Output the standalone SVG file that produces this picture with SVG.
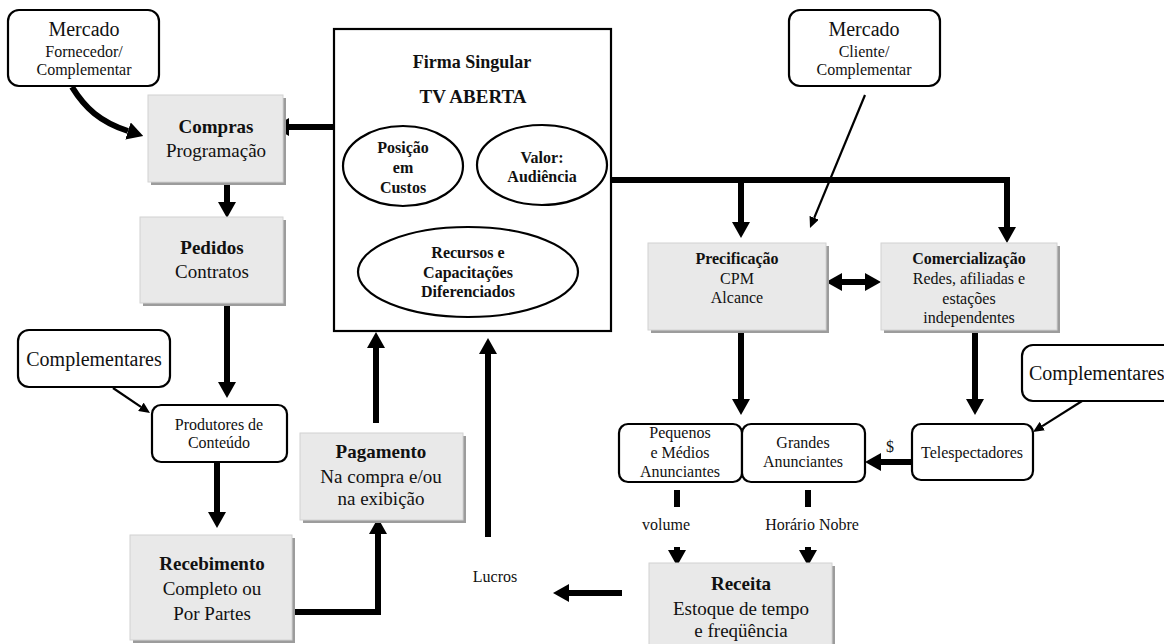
<svg xmlns="http://www.w3.org/2000/svg" width="1164" height="644" viewBox="0 0 1164 644">
  <style>
    text { font-family: "Liberation Serif", "Times New Roman", serif; fill: #111; text-anchor: middle; }
    text.st { text-anchor: start; }
    .b { font-weight: bold; }
    .s16 { font-size: 16px; }
    .s19 { font-size: 19px; }
    .s20 { font-size: 20px; }
    .rbox { fill: #fff; stroke: #000; stroke-width: 2.2; }
    .gbox { fill: #e9e9e9; stroke: #d2d2d2; stroke-width: 1; }
    .shadow { fill: #9c9c9c; }
    .ell { fill: #fff; stroke: #000; stroke-width: 2.2; }
    .thick { fill: none; stroke: #000; stroke-width: 6; }
    .mid { fill: none; stroke: #000; stroke-width: 3.5; }
    .thin { fill: none; stroke: #000; stroke-width: 2.2; }
  </style>
  <defs>
    <marker id="ah" markerUnits="userSpaceOnUse" markerWidth="16" markerHeight="18" viewBox="0 0 16 18" refX="0" refY="9" orient="auto-start-reverse">
      <path d="M0,0 L16,9 L0,18 z" fill="#000"/>
    </marker>
    <marker id="am" markerUnits="userSpaceOnUse" markerWidth="10" markerHeight="11" viewBox="0 0 10 11" refX="0" refY="5.5" orient="auto-start-reverse">
      <path d="M0,0 L10,5.5 L0,11 z" fill="#000"/>
    </marker>
    <marker id="at" markerUnits="userSpaceOnUse" markerWidth="11" markerHeight="10" viewBox="0 0 11 10" refX="0" refY="5" orient="auto">
      <path d="M0,0 L11,5 L0,10 z" fill="#000"/>
    </marker>
  </defs>

  <rect width="1164" height="644" fill="#fff"/>

  <!-- connectors -->
  <g id="connectors">
    <path class="thick" d="M72,87 C85,108 100,122 128,131" marker-end="url(#ah)"/>
    <line class="thick" x1="334" y1="127" x2="289" y2="127" marker-end="url(#ah)"/>
    <line class="thick" x1="227" y1="182" x2="227" y2="202" marker-end="url(#ah)"/>
    <line class="thick" x1="227" y1="303" x2="227" y2="382" marker-end="url(#ah)"/>
    <line class="thin" x1="113" y1="388" x2="140.9" y2="406.8" marker-end="url(#at)"/>
    <line class="thick" x1="217" y1="463" x2="217" y2="512" marker-end="url(#ah)"/>
    <polyline class="thick" points="292,612 378,612 378,534" marker-end="url(#ah)"/>
    <line class="thick" x1="376" y1="423" x2="376" y2="348" marker-end="url(#ah)"/>
    <line class="thick" x1="488" y1="537" x2="488" y2="354" marker-end="url(#ah)"/>
    <line class="thick" x1="622" y1="593" x2="569" y2="593" marker-end="url(#ah)"/>

    <!-- inside the firm -->
    <line class="mid" x1="460" y1="167" x2="482" y2="167" marker-start="url(#am)" marker-end="url(#am)"/>
    <line class="mid" x1="442" y1="227" x2="430.6" y2="210.3" marker-end="url(#am)"/>
    <line class="mid" x1="503" y1="227" x2="517.9" y2="212.1" marker-end="url(#am)"/>

    <!-- output bus to pricing and sales -->
    <path class="thick" d="M611,180 H1007 V227" marker-end="url(#ah)"/>
    <line class="thick" x1="741" y1="180" x2="741" y2="222" marker-end="url(#ah)"/>
    <line class="thin" x1="865" y1="95" x2="814.2" y2="217.8" marker-end="url(#at)"/>
    <line class="thick" x1="842" y1="282" x2="865" y2="282" marker-start="url(#ah)" marker-end="url(#ah)"/>
    <line class="thick" x1="741" y1="331" x2="741" y2="399" marker-end="url(#ah)"/>
    <line class="thick" x1="975" y1="331" x2="975" y2="399" marker-end="url(#ah)"/>
    <line class="thin" x1="1090" y1="396" x2="1042.3" y2="426.1" marker-end="url(#at)"/>
    <line class="thick" x1="912" y1="462" x2="881" y2="462" marker-end="url(#ah)"/>

    <!-- advertiser flows into revenue -->
    <line class="thick" x1="677" y1="490" x2="677" y2="507"/>
    <line class="thick" x1="677" y1="547" x2="677" y2="550" marker-end="url(#ah)"/>
    <line class="thick" x1="808" y1="490" x2="808" y2="507"/>
    <line class="thick" x1="808" y1="547" x2="808" y2="550" marker-end="url(#ah)"/>
  </g>

  <!-- external market: suppliers -->
  <g id="mercado-fornecedor">
    <rect class="rbox" x="8" y="10" width="151" height="76" rx="11"/>
    <text class="s20" x="84" y="36">Mercado</text>
    <text class="s16" x="84" y="57">Fornecedor/</text>
    <text class="s16" x="84" y="75">Complementar</text>
  </g>

  <g id="compras">
    <rect class="shadow" x="151" y="98" width="135" height="87"/>
    <rect class="gbox" x="148" y="95" width="135" height="87"/>
    <text class="s19 b" x="216" y="133">Compras</text>
    <text class="s19" x="216" y="157">Programação</text>
  </g>

  <g id="pedidos">
    <rect class="shadow" x="143" y="220" width="143" height="86"/>
    <rect class="gbox" x="140" y="217" width="143" height="86"/>
    <text class="s19 b" x="212" y="254">Pedidos</text>
    <text class="s19" x="212" y="278">Contratos</text>
  </g>

  <g id="complementares-esq">
    <rect class="rbox" x="18" y="330" width="152" height="57" rx="11"/>
    <text class="s20" x="94" y="366">Complementares</text>
  </g>

  <g id="produtores">
    <rect class="rbox" x="152" y="405" width="135" height="57" rx="9"/>
    <text class="s16" x="219" y="430">Produtores de</text>
    <text class="s16" x="219" y="448">Conteúdo</text>
  </g>

  <g id="recebimento">
    <rect class="shadow" x="133" y="538" width="162" height="105"/>
    <rect class="gbox" x="130" y="535" width="162" height="105"/>
    <text class="s19 b" x="212" y="570">Recebimento</text>
    <text class="s19" x="212" y="595">Completo ou</text>
    <text class="s19" x="212" y="620">Por Partes</text>
  </g>

  <g id="pagamento">
    <rect class="shadow" x="303" y="436" width="163" height="87"/>
    <rect class="gbox" x="300" y="433" width="163" height="87"/>
    <text class="s19 b" x="381" y="458">Pagamento</text>
    <text class="s19" x="381" y="483">Na compra e/ou</text>
    <text class="s19" x="381" y="505">na exibição</text>
  </g>

  <!-- the firm and its internal resources -->
  <g id="firma">
    <rect x="334" y="29" width="277" height="302" fill="#fff" stroke="#000" stroke-width="2.2"/>
    <text class="b" x="472" y="68" font-size="18">Firma Singular</text>
    <text class="b" x="473" y="103" font-size="19">TV ABERTA</text>
  </g>

  <g id="posicao">
    <ellipse class="ell" cx="403" cy="166" rx="60" ry="40"/>
    <text class="s16 b" x="403" y="153">Posição</text>
    <text class="s16 b" x="403" y="173">em</text>
    <text class="s16 b" x="403" y="193">Custos</text>
  </g>

  <g id="valor">
    <ellipse class="ell" cx="542" cy="165" rx="65" ry="40"/>
    <text class="s16 b" x="542" y="163">Valor:</text>
    <text class="s16 b" x="542" y="182">Audiência</text>
  </g>

  <g id="recursos">
    <ellipse class="ell" cx="468" cy="272" rx="110" ry="45"/>
    <text class="s16 b" x="468" y="258">Recursos e</text>
    <text class="s16 b" x="468" y="278">Capacitações</text>
    <text class="s16 b" x="468" y="297">Diferenciados</text>
  </g>

  <!-- external market: clients -->
  <g id="mercado-cliente">
    <rect class="rbox" x="789" y="10" width="151" height="76" rx="11"/>
    <text class="s20" x="864" y="36">Mercado</text>
    <text class="s16" x="864" y="57">Cliente/</text>
    <text class="s16" x="864" y="75">Complementar</text>
  </g>

  <g id="precificacao">
    <rect class="shadow" x="651" y="246" width="178" height="87"/>
    <rect class="gbox" x="648" y="243" width="178" height="87"/>
    <text class="s16 b" x="737" y="264">Precificação</text>
    <text class="s16" x="737" y="284">CPM</text>
    <text class="s16" x="737" y="303">Alcance</text>
  </g>

  <g id="comercializacao">
    <rect class="shadow" x="884" y="246" width="176" height="87"/>
    <rect class="gbox" x="881" y="243" width="176" height="87"/>
    <text class="s16 b" x="969" y="264">Comercialização</text>
    <text class="s16" x="969" y="284">Redes, afiliadas e</text>
    <text class="s16" x="969" y="304">estações</text>
    <text class="s16" x="969" y="323">independentes</text>
  </g>

  <g id="complementares-dir">
    <rect class="rbox" x="1022" y="345" width="160" height="56" rx="11"/>
    <text class="s20 st" x="1029" y="380">Complementares</text>
  </g>

  <g id="pequenos">
    <rect class="rbox" x="619" y="424" width="123" height="58" rx="9"/>
    <text class="s16" x="680" y="438">Pequenos</text>
    <text class="s16" x="680" y="458">e Médios</text>
    <text class="s16" x="680" y="477">Anunciantes</text>
  </g>

  <g id="grandes">
    <rect class="rbox" x="742" y="424" width="123" height="58" rx="9"/>
    <text class="s16" x="803" y="448">Grandes</text>
    <text class="s16" x="803" y="467">Anunciantes</text>
  </g>

  <g id="telespectadores">
    <rect class="rbox" x="912" y="424" width="121" height="56" rx="9"/>
    <text class="s16" x="972" y="458">Telespectadores</text>
  </g>

  <g id="receita">
    <rect class="shadow" x="652" y="566" width="183" height="90"/>
    <rect class="gbox" x="649" y="563" width="183" height="90"/>
    <text class="s19 b" x="741" y="590">Receita</text>
    <text class="s19" x="741" y="615">Estoque de tempo</text>
    <text class="s19" x="741" y="637">e freqüência</text>
  </g>

  <!-- connector labels -->
  <g id="labels">
    <text class="s16" x="890" y="452">$</text>
    <text class="s16" x="666" y="530">volume</text>
    <text class="s16" x="812" y="530">Horário Nobre</text>
    <text class="s16" x="495" y="582">Lucros</text>
  </g>
</svg>
